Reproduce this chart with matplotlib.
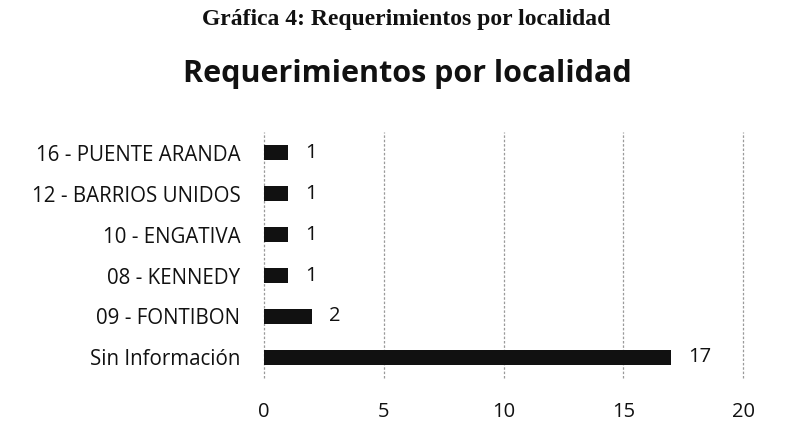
import matplotlib
matplotlib.use('Agg')
import matplotlib.pyplot as plt
import matplotlib.ticker as ticker

# Chart data (bottom to top)
localidades = ['Sin Información', '09 - FONTIBON', '08 - KENNEDY',
               '10 - ENGATIVA', '12 - BARRIOS UNIDOS', '16 - PUENTE ARANDA']
requerimientos = [17, 2, 1, 1, 1, 1]
x_ticks = [0, 5, 10, 15, 20]

caption = 'Gráfica 4: Requerimientos por localidad'
title = 'Requerimientos por localidad'

plt.rcParams['font.family'] = ['Open Sans', 'DejaVu Sans']

fig = plt.figure(figsize=(7.89, 4.38), dpi=100)
ax = fig.add_axes([0.3346, 0.137, 0.6071, 0.5616])

ypos = list(range(len(localidades)))
ax.barh(ypos, requerimientos, height=0.36, color='#111111', zorder=3)

for y, v in zip(ypos, requerimientos):
    ax.annotate(str(v), xy=(v, y), xytext=(12.5, 0), textcoords='offset points',
                ha='left', va='center', fontsize=14.5, color='#111111')

ax.set_xlim(0, 20)
ax.set_ylim(-0.5, len(localidades) - 0.5)
ax.xaxis.set_major_locator(ticker.FixedLocator(x_ticks))
ax.set_yticks(ypos)
ax.set_yticklabels(localidades, fontsize=14.8, color='#111111')
ax.tick_params(axis='x', labelsize=14.5, colors='#111111', length=0, pad=17)
ax.tick_params(axis='y', length=0, pad=17)
ax.grid(visible=True, axis='x', color='#9a9a9a', linestyle=(0, (2, 1.5)), linewidth=0.9, zorder=0)
ax.grid(visible=False, axis='y')
for gl in ax.get_xgridlines():
    gl.set_clip_on(False)
for s in ax.spines.values():
    s.set_visible(False)

fig.text(0.515, 0.955, caption, family='Liberation Serif', weight='bold',
         fontsize=17, ha='center', va='center', color='#111111')
fig.text(0.516, 0.83, title, weight='bold', fontsize=22,
         ha='center', va='center', color='#111111')

fig.savefig('out.png', dpi=100)
